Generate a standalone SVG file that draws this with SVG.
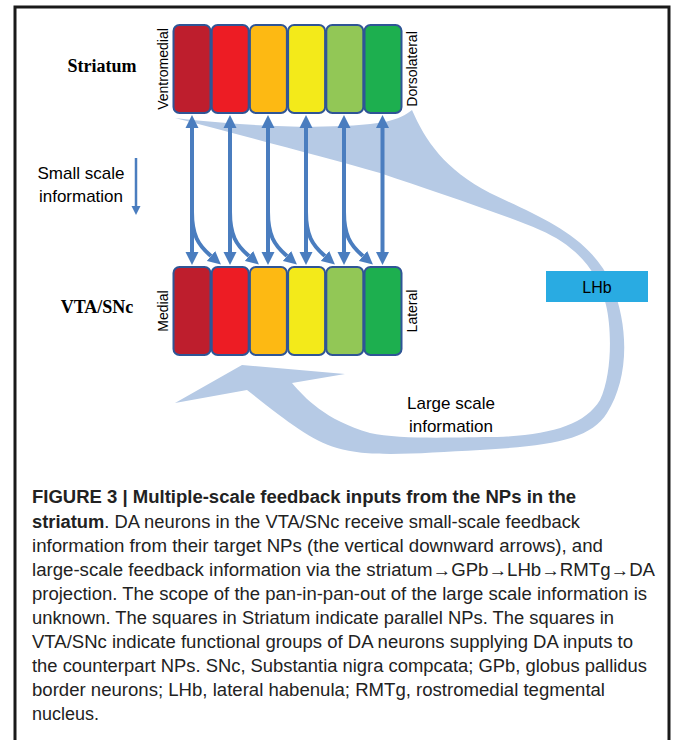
<svg xmlns="http://www.w3.org/2000/svg" width="673" height="740" viewBox="0 0 673 740">
<style>
.box{stroke:#2F5596;stroke-width:2}
.lbl{font-family:"Liberation Sans",Arial,sans-serif;fill:#000}
.side{font-family:"Liberation Sans",Arial,sans-serif;font-size:14px;fill:#000}
.title{font-family:"Liberation Serif","Times New Roman",serif;font-weight:bold;font-size:18px;fill:#000}
.arr{stroke:#4A7DBF;stroke-width:4;fill:none}
.cap{font-family:"Liberation Sans Narrow","Liberation Sans",Arial,sans-serif;font-size:17.5px;fill:#222}
</style>
<defs>
<marker id="ah" markerUnits="userSpaceOnUse" viewBox="0 -7 14 14" refX="0" refY="0" markerWidth="14" markerHeight="14" orient="auto-start-reverse">
<path d="M0,-6.5 L13,0 L0,6.5 Z" fill="#4A7DBF"/>
</marker>
<marker id="ahs" markerUnits="userSpaceOnUse" viewBox="0 -5 10 10" refX="0" refY="0" markerWidth="10" markerHeight="10" orient="auto">
<path d="M0,-4.5 L9,0 L0,4.5 Z" fill="#4A7DBF"/>
</marker>
</defs>
<rect width="673" height="740" fill="#fff"/>
<path id="frame" d="M15,740 V7 H669 V740" fill="none" stroke="#1a1a1a" stroke-width="3"/>

<g id="large-scale-band">
<path fill="#B6CAE5" d="M175,118 C250,127 340,130 385,122 C398,119 406,115 412,110 C425,140 445,170 490,193 C540,217 590,235 612,285 C630,330 628,380 607,413 C590,440 550,446 480,450 C420,453 370,458 337,448 C310,440 285,420 247,390 L175,403 L242,365 L345,374 L292,383 C305,398 325,420 370,433 C400,440 460,437 497,437 C550,435 585,425 600,400 C612,375 612,330 606,305 C598,270 575,245 540,230 C500,213 430,190 380,173 C320,156 240,135 175,118 Z"/>
</g>

<g id="striatum">
<rect class="box" x="173.5" y="25" width="37" height="88" rx="6" fill="#BE1E2D"/>
<rect class="box" x="211.7" y="25" width="37" height="88" rx="6" fill="#ED1C24"/>
<rect class="box" x="249.9" y="25" width="37" height="88" rx="6" fill="#FDB913"/>
<rect class="box" x="288.1" y="25" width="37" height="88" rx="6" fill="#F3EA1A"/>
<rect class="box" x="326.3" y="25" width="37" height="88" rx="6" fill="#92C756"/>
<rect class="box" x="364.5" y="25" width="37" height="88" rx="6" fill="#1DAF4F"/>
<text class="title" x="102" y="72" text-anchor="middle">Striatum</text>
<text class="side" transform="translate(168,69) rotate(-90)" text-anchor="middle">Ventromedial</text>
<text class="side" transform="translate(417,69) rotate(-90)" text-anchor="middle">Dorsolateral</text>
</g>

<g id="vta-snc">
<rect class="box" x="173.5" y="267" width="37" height="88" rx="6" fill="#BE1E2D"/>
<rect class="box" x="211.7" y="267" width="37" height="88" rx="6" fill="#ED1C24"/>
<rect class="box" x="249.9" y="267" width="37" height="88" rx="6" fill="#FDB913"/>
<rect class="box" x="288.1" y="267" width="37" height="88" rx="6" fill="#F3EA1A"/>
<rect class="box" x="326.3" y="267" width="37" height="88" rx="6" fill="#92C756"/>
<rect class="box" x="364.5" y="267" width="37" height="88" rx="6" fill="#1DAF4F"/>
<text class="title" x="97" y="313" text-anchor="middle">VTA/SNc</text>
<text class="side" transform="translate(168,311) rotate(-90)" text-anchor="middle">Medial</text>
<text class="side" transform="translate(417,311) rotate(-90)" text-anchor="middle">Lateral</text>
</g>

<g id="lhb">
<rect x="546" y="271" width="102" height="31" fill="#29ABE2"/>
<text class="lbl" x="597" y="292.5" font-size="16" text-anchor="middle">LHb</text>
</g>

<g id="connectors">
<path class="arr" d="M192,128 V252" marker-start="url(#ah)" marker-end="url(#ah)"/>
<path class="arr" d="M230,128 V252" marker-start="url(#ah)" marker-end="url(#ah)"/>
<path class="arr" d="M268,128 V252" marker-start="url(#ah)" marker-end="url(#ah)"/>
<path class="arr" d="M306,128 V252" marker-start="url(#ah)" marker-end="url(#ah)"/>
<path class="arr" d="M344,128 V252" marker-start="url(#ah)" marker-end="url(#ah)"/>
<path class="arr" d="M382.5,128 V252" marker-start="url(#ah)" marker-end="url(#ah)"/>
<path class="arr" d="M192,212 C192,235 198,245 211,256" marker-end="url(#ah)"/>
<path class="arr" d="M230,212 C230,235 236,245 249,256" marker-end="url(#ah)"/>
<path class="arr" d="M268,212 C268,235 274,245 287,256" marker-end="url(#ah)"/>
<path class="arr" d="M306,212 C306,235 312,245 325,256" marker-end="url(#ah)"/>
<path class="arr" d="M344,212 C344,235 350,245 363,256" marker-end="url(#ah)"/>
<path d="M136,158 V206" stroke="#4A7DBF" stroke-width="2.5" fill="none" marker-end="url(#ahs)"/>
</g>

<g id="labels">
<text class="lbl" font-size="17" text-anchor="middle" x="81" y="179">Small scale</text>
<text class="lbl" font-size="17" text-anchor="middle" x="81" y="202">information</text>
<text class="lbl" font-size="17" text-anchor="middle" x="451" y="409">Large scale</text>
<text class="lbl" font-size="17" text-anchor="middle" x="451" y="432">information</text>
</g>

<g id="caption" class="cap">
<text x="32" y="503" font-weight="bold" textLength="544" lengthAdjust="spacingAndGlyphs">FIGURE 3 | Multiple-scale feedback inputs from the NPs in the</text>
<text x="32" y="527.5" textLength="548" lengthAdjust="spacingAndGlyphs"><tspan font-weight="bold">striatum</tspan>. DA neurons in the VTA/SNc receive small-scale feedback</text>
<text x="32" y="551.5" textLength="571" lengthAdjust="spacingAndGlyphs">information from their target NPs (the vertical downward arrows), and</text>
<text x="32" y="575.5" textLength="623" lengthAdjust="spacingAndGlyphs">large-scale feedback information via the striatum→GPb→LHb→RMTg→DA</text>
<text x="32" y="599.5" textLength="615" lengthAdjust="spacingAndGlyphs">projection. The scope of the pan-in-pan-out of the large scale information is</text>
<text x="32" y="623.5" textLength="582" lengthAdjust="spacingAndGlyphs">unknown. The squares in Striatum indicate parallel NPs. The squares in</text>
<text x="32" y="647.5" textLength="601" lengthAdjust="spacingAndGlyphs">VTA/SNc indicate functional groups of DA neurons supplying DA inputs to</text>
<text x="32" y="671.5" textLength="615" lengthAdjust="spacingAndGlyphs">the counterpart NPs. SNc, Substantia nigra compcata; GPb, globus pallidus</text>
<text x="32" y="695.5" textLength="573" lengthAdjust="spacingAndGlyphs">border neurons; LHb, lateral habenula; RMTg, rostromedial tegmental</text>
<text x="32" y="719.5" textLength="67" lengthAdjust="spacingAndGlyphs">nucleus.</text>
</g>
</svg>
